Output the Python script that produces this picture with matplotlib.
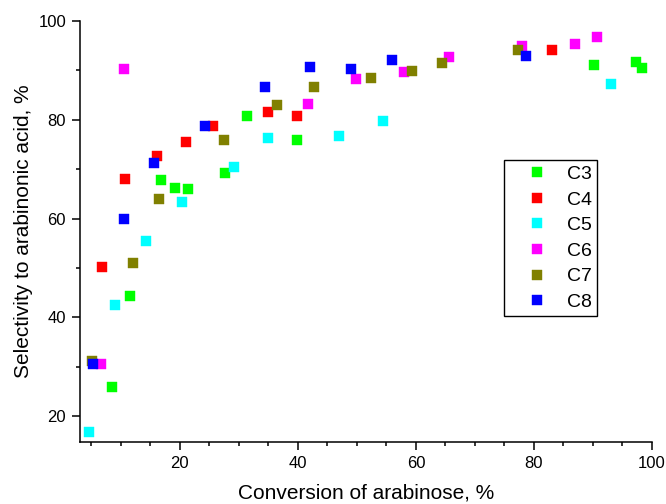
import matplotlib
matplotlib.use("Agg")
import matplotlib.pyplot as plt
from matplotlib.ticker import MultipleLocator

plt.rcParams['font.family'] = ['Liberation Sans', 'DejaVu Sans']

c3_x = [8.6, 11.5, 16.9, 19.2, 21.4, 27.6, 31.4, 39.8, 90.2, 97.3, 98.3]
c3_y = [25.9, 44.3, 67.8, 66.2, 66.0, 69.2, 80.8, 75.9, 91.1, 91.7, 90.5]

c4_x = [6.8, 10.8, 16.2, 21.0, 25.6, 34.9, 39.8, 83.1]
c4_y = [50.2, 68.1, 72.7, 75.6, 78.7, 81.5, 80.8, 94.2]

c5_x = [4.7, 9.0, 14.2, 20.3, 29.2, 34.9, 47.0, 54.5, 93.1]
c5_y = [16.8, 42.5, 55.4, 63.3, 70.5, 76.4, 76.8, 79.7, 87.2]

c6_x = [6.6, 10.5, 41.7, 49.9, 58.0, 65.6, 78.0, 86.9, 90.6]
c6_y = [30.5, 90.3, 83.3, 88.3, 89.7, 92.7, 94.9, 95.4, 96.7]

c7_x = [5.1, 12.1, 16.4, 27.5, 36.4, 42.7, 52.4, 59.4, 64.4, 77.3]
c7_y = [31.1, 51.0, 63.9, 76.0, 83.1, 86.7, 88.5, 89.9, 91.6, 94.1]

c8_x = [5.3, 10.5, 15.7, 24.2, 34.5, 42.0, 49.0, 55.9, 78.6]
c8_y = [30.5, 60.0, 71.2, 78.8, 86.6, 90.7, 90.3, 92.2, 93.0]

labels = ["C3", "C4", "C5", "C6", "C7", "C8"]
colors = ["#00FF00", "#FF0000", "#00FFFF", "#FF00FF", "#808000", "#0000FF"]
series = [(c3_x, c3_y), (c4_x, c4_y), (c5_x, c5_y), (c6_x, c6_y), (c7_x, c7_y), (c8_x, c8_y)]

fig = plt.figure(figsize=(6.66, 5.04), dpi=100)
ax = fig.add_axes([80/666, 62/504, 572/666, 421/504])

for (xs, ys), lab, col in zip(series, labels, colors):
    ax.plot(xs, ys, linestyle='none', marker='s', ms=6.8, mfc=col, mec=col, mew=0.3, label=lab)

ax.set_xlim(3.1, 100)
ax.set_ylim(14.8, 100)
ax.xaxis.set_major_locator(MultipleLocator(20))
ax.xaxis.set_minor_locator(MultipleLocator(5))
ax.yaxis.set_major_locator(MultipleLocator(20))
ax.yaxis.set_minor_locator(MultipleLocator(10))

ax.spines['top'].set_visible(False)
ax.spines['right'].set_visible(False)
for s in ['left', 'bottom']:
    ax.spines[s].set_linewidth(1.1)
ax.tick_params(which='major', direction='out', length=6, width=1.1, labelsize=12, pad=4)
ax.tick_params(which='minor', direction='out', length=3, width=1.1)

ax.set_xlabel("Conversion of arabinose, %", fontsize=15, labelpad=9)
ax.set_ylabel("Selectivity to arabinonic acid, %", fontsize=15, labelpad=4)

leg = ax.legend(loc='upper right', bbox_to_anchor=(0.904, (442 - 160) / 421), fontsize=14,
                frameon=True, fancybox=False, edgecolor='black', framealpha=1,
                handletextpad=0.05, borderpad=0.28, labelspacing=0.41, handlelength=2.9,
                borderaxespad=0)
leg.get_frame().set_linewidth(1.0)

fig.savefig("out.png", dpi=100)
